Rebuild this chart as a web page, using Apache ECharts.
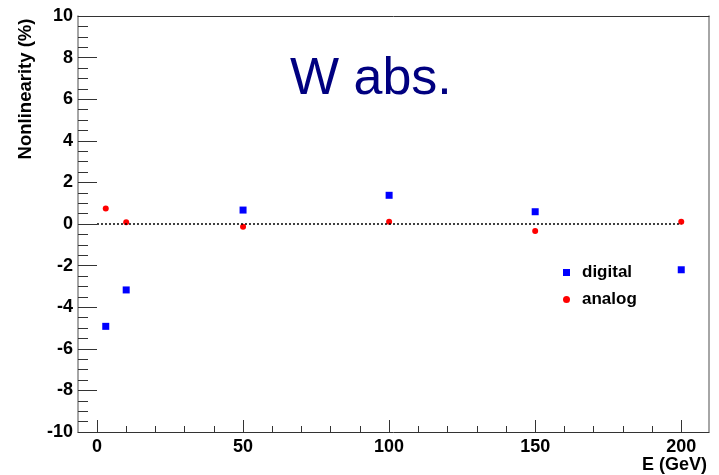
<!DOCTYPE html>
<html>
<head>
<meta charset="utf-8">
<script src="https://cdn.jsdelivr.net/npm/echarts@6/dist/echarts.min.js"></script>
<style>html,body{margin:0;padding:0;background:#fff;}#c{width:719px;height:475px;}</style>
</head>
<body>
<div id="c"></div>
<script>
var energies = [3, 10, 50, 100, 150, 200];
var digital = [-4.92, -3.17, 0.67, 1.38, 0.59, -2.2];
var analog = [0.74, 0.08, -0.13, 0.11, -0.34, 0.11];
var xMajorTicks = [0, 50, 100, 150, 200];
var xMinorTicks = [0, 10, 20, 30, 40, 50, 60, 70, 80, 90, 100, 110, 120, 130, 140, 150, 160, 170, 180, 190, 200];
var titleText = 'W abs.';
var yTitle = 'Nonlinearity (%)';
var xTitle = 'E (GeV)';

var FONT = "'Liberation Sans', Arial, sans-serif";
function pairs(xs, ys) { return xs.map(function (x, i) { return [x, ys[i]]; }); }

var chart = echarts.init(document.getElementById('c'), null, { renderer: 'canvas' });
chart.setOption({
  animation: false,
  backgroundColor: '#fff',
  textStyle: { fontFamily: FONT },
  title: {
    text: titleText, left: 290, top: 54, padding: 0,
    textStyle: { color: '#000080', fontSize: 52, fontWeight: 'normal', fontFamily: FONT }
  },
  grid: { left: 78, top: 16, right: 10, bottom: 43, containLabel: false, outerBoundsMode: 'none' },
  legend: {
    data: ['digital', 'analog'], orient: 'vertical', left: 563, top: 264,
    itemWidth: 7, itemHeight: 7, itemGap: 10, padding: 0,
    textStyle: { fontSize: 17, fontWeight: 'bold', color: '#000', fontFamily: FONT, padding: [0, 0, 0, 7] }
  },
  xAxis: [
    {
      type: 'value', min: -6.5, max: 209.5, position: 'bottom',
      axisLine: { show: true, onZero: false, lineStyle: { color: '#333', width: 1 } },
      axisTick: { show: true, inside: true, length: 12, customValues: xMajorTicks, lineStyle: { color: '#333' } },
      axisLabel: { customValues: xMajorTicks, fontSize: 18, fontWeight: 'bold', color: '#000', margin: 6, fontFamily: FONT },
      splitLine: { show: false }
    },
    {
      type: 'value', min: -6.5, max: 209.5, position: 'bottom',
      axisLine: { show: false, onZero: false },
      axisTick: { show: true, inside: true, length: 6, customValues: xMinorTicks, lineStyle: { color: '#333' } },
      axisLabel: { show: false },
      splitLine: { show: false }
    },
    {
      type: 'value', min: -6.5, max: 209.5, position: 'top',
      axisLine: { show: true, onZero: false, lineStyle: { color: '#333', width: 1 } },
      axisTick: { show: false }, axisLabel: { show: false }, splitLine: { show: false }
    }
  ],
  yAxis: [
    {
      type: 'value', min: -10, max: 10, interval: 2, position: 'left',
      axisLine: { show: true, onZero: false, lineStyle: { color: '#888', width: 1.5 } },
      axisTick: { show: true, inside: true, length: 19, lineStyle: { color: '#333' } },
      minorTick: { show: true, splitNumber: 4, length: 10, lineStyle: { color: '#333' } },
      axisLabel: { fontSize: 18, fontWeight: 'bold', color: '#000', margin: 5, fontFamily: FONT },
      splitLine: { show: false }, minorSplitLine: { show: false }
    },
    {
      type: 'value', min: -10, max: 10, position: 'right',
      axisLine: { show: true, onZero: false, lineStyle: { color: '#888', width: 1.5 } },
      axisTick: { show: false }, axisLabel: { show: false }, splitLine: { show: false }
    }
  ],
  graphic: [
    {
      type: 'text', x: 26, y: 89, rotation: Math.PI / 2,
      style: { text: yTitle, font: 'bold 18.5px ' + FONT, fill: '#000', textAlign: 'center', textVerticalAlign: 'middle' }
    },
    {
      type: 'text', x: 707, y: 465,
      style: { text: xTitle, font: 'bold 18px ' + FONT, fill: '#000', textAlign: 'right', textVerticalAlign: 'middle' }
    }
  ],
  series: [
    {
      name: 'digital', type: 'scatter', xAxisIndex: 0, yAxisIndex: 0,
      symbol: 'rect', symbolSize: 7, itemStyle: { color: '#0000ff', opacity: 1 },
      data: pairs(energies, digital), z: 3,
      markLine: {
        silent: true, symbol: 'none', label: { show: false },
        lineStyle: { color: '#000', type: [2, 2], width: 1.5, opacity: 1 },
        data: [[{ coord: [0, 0] }, { coord: [200, 0] }]]
      }
    },
    {
      name: 'analog', type: 'scatter', xAxisIndex: 0, yAxisIndex: 0,
      symbol: 'circle', symbolSize: 6, itemStyle: { color: '#ff0000', opacity: 1 },
      data: pairs(energies, analog), z: 4
    }
  ]
});
</script>
</body>
</html>
